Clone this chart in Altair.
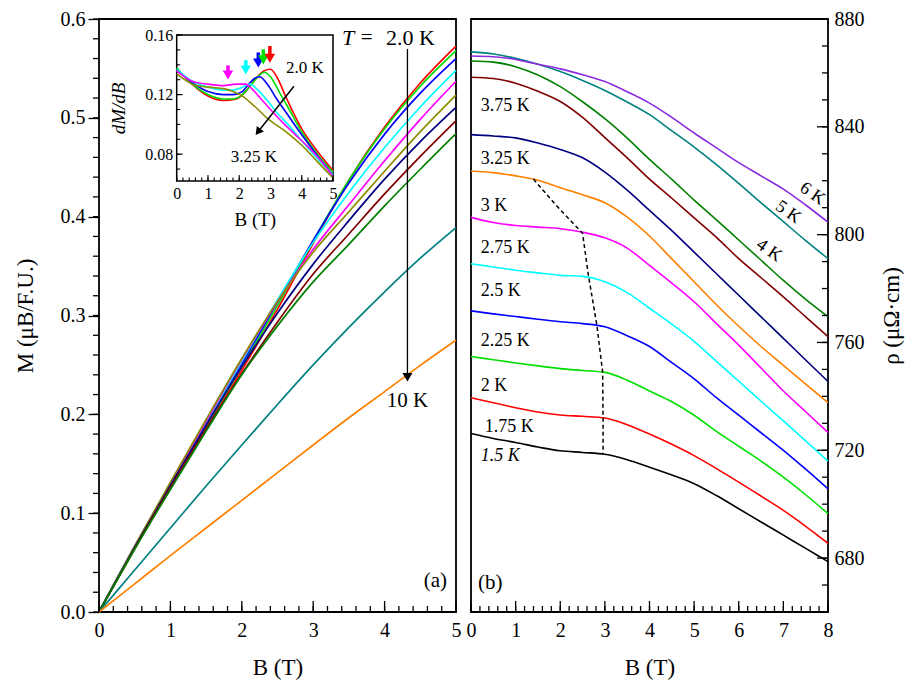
import altair as alt
import pandas as pd

FONT = "Liberation Serif"
W, H = 357, 593
# inset position inside panel (a), pixels
IX0, IX1, IY0, IY1 = 77.7, 234.0, 16.0, 162.0

# ---------------- Panel (a): M vs B ----------------
B_A = [0, 0.5, 1, 1.5, 2, 2.5, 3, 3.5, 4, 4.5, 5]
A_NAMES = ["2.0 K", "2.25 K", "2.5 K", "2.75 K", "3.0 K", "3.25 K",
           "3.5 K", "3.75 K", "4.0 K", "6.0 K", "10 K"]
A_COLORS = ["#ff0000", "#00dd00", "#0000ff", "#00ffff", "#ff00ff", "#8b8b00",
            "#000080", "#800000", "#008000", "#008080", "#ff8000"]
M_200 = [0, 0.066, 0.1275, 0.1863, 0.2446, 0.3064, 0.3731, 0.4369, 0.4906, 0.5353, 0.5726]
M_225 = [0, 0.0665, 0.1288, 0.1885, 0.2480, 0.3103, 0.3753, 0.4368, 0.4890, 0.5320, 0.5680]
M_250 = [0, 0.0663, 0.1290, 0.1900, 0.2508, 0.3138, 0.3760, 0.4340, 0.4835, 0.5250, 0.5600]
M_275 = [0, 0.0665, 0.1300, 0.1920, 0.2538, 0.3158, 0.3740, 0.4245, 0.4700, 0.5110, 0.5480]
M_300 = [0, 0.0663, 0.1301, 0.1928, 0.2556, 0.3140, 0.3670, 0.4120, 0.4565, 0.4985, 0.5370]
M_325 = [0, 0.0665, 0.1313, 0.1948, 0.2565, 0.3143, 0.3640, 0.4050, 0.4460, 0.4860, 0.5230]
M_350 = [0, 0.0650, 0.1280, 0.1890, 0.2480, 0.3025, 0.3520, 0.3960, 0.4380, 0.4760, 0.5106]
M_375 = [0, 0.0640, 0.1260, 0.1850, 0.2410, 0.2935, 0.3420, 0.3825, 0.4230, 0.4610, 0.4970]
M_400 = [0, 0.0635, 0.1240, 0.1830, 0.2400, 0.2895, 0.3340, 0.3720, 0.4110, 0.4480, 0.4840]
M_600 = [0, 0.0425, 0.0850, 0.1275, 0.1690, 0.2100, 0.2500, 0.2880, 0.3240, 0.3580, 0.3890]
M_1000 = [0, 0.0285, 0.0570, 0.0850, 0.1130, 0.1410, 0.1690, 0.1965, 0.2230, 0.2495, 0.2750]
M_ALL = [M_200, M_225, M_250, M_275, M_300, M_325, M_350, M_375, M_400, M_600, M_1000]

# inset dM/dB
IN_B = [
    [0, 0.3, 0.6, 1.0, 1.5, 1.9, 2.2, 2.5, 2.8, 3.0, 3.2, 3.5, 4.0, 4.5, 5.0],
    [0, 0.5, 1.0, 1.5, 1.8, 2.1, 2.4, 2.6, 2.8, 3.0, 3.3, 3.6, 4.0, 4.5, 5.0],
    [0, 0.5, 1.0, 1.5, 1.8, 2.1, 2.3, 2.5, 2.65, 2.9, 3.2, 3.6, 4.0, 4.5, 5.0],
    [0, 0.5, 1.0, 1.5, 1.8, 2.1, 2.35, 2.6, 2.9, 3.2, 3.6, 4.0, 4.5, 5.0],
    [0, 0.5, 1.0, 1.5, 1.9, 2.2, 2.4, 2.7, 3.0, 3.4, 3.8, 4.2, 4.6, 5.0],
    [0, 0.5, 1.0, 1.5, 1.8, 2.1, 2.5, 2.9, 3.5, 4.0, 4.5, 5.0],
]
IN_V = [
    [0.137, 0.131, 0.125, 0.119, 0.116, 0.117, 0.122, 0.130, 0.136, 0.137, 0.132, 0.118, 0.097, 0.082, 0.069],
    [0.138, 0.127, 0.120, 0.117, 0.117, 0.120, 0.127, 0.132, 0.135, 0.132, 0.121, 0.110, 0.095, 0.080, 0.068],
    [0.137, 0.128, 0.122, 0.120, 0.120, 0.122, 0.127, 0.131, 0.132, 0.127, 0.117, 0.105, 0.093, 0.079, 0.066],
    [0.137, 0.129, 0.125, 0.123, 0.123, 0.125, 0.127, 0.123, 0.116, 0.108, 0.099, 0.089, 0.077, 0.066],
    [0.136, 0.129, 0.127, 0.126, 0.127, 0.127, 0.124, 0.117, 0.110, 0.101, 0.093, 0.085, 0.076, 0.065],
    [0.134, 0.127, 0.125, 0.124, 0.122, 0.119, 0.112, 0.104, 0.095, 0.086, 0.075, 0.064],
]
ARW_B = [1.64, 2.21, 2.61, 2.77, 2.98]
ARW_TOP = [0.1396, 0.1431, 0.1483, 0.1504, 0.1526]
ARW_TIP = [0.1301, 0.1335, 0.1382, 0.1403, 0.1414]
ARW_C = ["#ff00ff", "#00ffff", "#0000ff", "#00dd00", "#ff0000"]

# ---------------- Panel (b): rho vs B ----------------
B_B = [0, 0.5, 1, 1.5, 2, 2.5, 3, 3.5, 4, 4.5, 5, 5.5, 6, 6.5, 7, 7.5, 8]
R_NAMES = ["1.5 K", "1.75 K", "2 K", "2.25 K", "2.5 K", "2.75 K", "3 K",
           "3.25 K", "3.75 K", "4 K", "5 K", "6 K"]
R_COLORS = ["#000000", "#ff0000", "#00e000", "#0000ff", "#00ffff", "#ff00ff",
            "#ff8000", "#000080", "#800000", "#008000", "#008080", "#8a2be2"]
R_150 = [726.2, 724.4, 722.9, 721.2, 719.8, 719.2, 718.5, 716.5, 713.7, 710.8, 707.6, 703.2, 698.3, 693.4, 688.5, 683.6, 678.7]
R_175 = [739.5, 737.6, 735.8, 734.2, 733.1, 732.6, 732.0, 729.5, 726.0, 722.2, 718.0, 713.2, 708.2, 703.0, 697.7, 691.8, 685.5]
R_200 = [754.8, 753.6, 752.4, 751.3, 750.3, 749.6, 748.9, 746.0, 742.0, 738.0, 733.0, 727.0, 721.5, 716.0, 710.0, 703.5, 696.5]
R_225 = [771.7, 770.6, 769.6, 768.6, 767.7, 767.0, 765.8, 762.5, 758.5, 752.5, 746.5, 739.5, 733.0, 726.5, 720.0, 713.0, 705.7]
R_250 = [789.2, 788.0, 786.8, 785.8, 784.9, 784.5, 782.5, 778.5, 772.7, 766.8, 760.4, 753.0, 745.6, 738.2, 730.9, 723.5, 716.0]
R_275 = [806.4, 804.5, 803.4, 802.8, 802.2, 800.9, 798.8, 795.0, 788.6, 782.0, 775.1, 767.0, 759.0, 750.5, 742.0, 734.3, 726.6]
R_300 = [823.6, 823.0, 821.8, 820.2, 817.4, 814.8, 811.8, 806.5, 799.5, 791.0, 782.5, 774.0, 766.0, 758.5, 751.5, 744.5, 737.7]
R_325 = [837.1, 836.6, 835.9, 834.0, 831.6, 828.5, 823.2, 816.5, 809.0, 801.5, 793.5, 785.5, 777.5, 769.5, 761.5, 753.5, 745.5]
R_375 = [858.4, 857.9, 856.2, 853.2, 849.4, 843.5, 836.0, 828.5, 820.6, 813.5, 806.2, 799.0, 791.1, 784.0, 776.9, 769.5, 762.2]
R_400 = [864.4, 864.0, 862.3, 859.2, 854.9, 849.3, 843.0, 835.8, 827.9, 820.5, 812.8, 805.5, 798.0, 790.5, 783.0, 776.0, 769.6]
R_500 = [867.8, 867.0, 865.4, 863.2, 860.5, 857.2, 853.5, 849.2, 844.5, 838.5, 832.5, 826.0, 819.0, 811.8, 804.8, 797.8, 791.1]
R_600 = [866.3, 866.0, 865.0, 863.2, 861.5, 859.3, 856.8, 853.0, 848.8, 843.5, 837.7, 832.2, 826.7, 821.8, 816.9, 811.0, 804.6]
R_ALL = [R_150, R_175, R_200, R_225, R_250, R_275, R_300, R_325, R_375, R_400, R_500, R_600]

DASH_B = [1.40, 1.90, 2.30, 2.50, 2.63, 2.82, 2.95, 2.96, 2.96]
DASH_R = [820.6, 811.0, 804.0, 800.5, 785.0, 766.5, 749.0, 732.0, 719.0]

LAB_T = ["3.75 K", "3.25 K", "3 K", "2.75 K", "2.5 K", "2.25 K", "2 K", "1.75 K"]
LAB_B = [0.22, 0.22, 0.22, 0.22, 0.22, 0.22, 0.22, 0.31]
LAB_R = [847.9, 827.9, 810.7, 795.1, 779.0, 760.4, 743.8, 728.8]
ROT_T = ["6 K", "5 K", "4 K"]
ROT_B = [7.65, 7.11, 6.68]
ROT_R = [815.2, 808.3, 794.1]

# tick positions
A_MAJ_X = [0, 1, 2, 3, 4, 5]
A_MIN_X = [round(0.2 * i, 1) for i in range(26)]
A_MAJ_Y = [0.0, 0.1, 0.2, 0.3, 0.4, 0.5, 0.6]
A_MIN_Y = [round(0.02 * i, 2) for i in range(31)]
B_MAJ_X = [0, 1, 2, 3, 4, 5, 6, 7, 8]
B_MIN_X = [round(0.2 * i, 1) for i in range(41)]
B_MAJ_Y = [680, 720, 760, 800, 840, 880]
B_MIN_Y = [660 + 10 * i for i in range(23)]
I_MAJ_Y = [0.08, 0.12, 0.16]
I_MIN_Y = [round(0.07 + 0.01 * i, 2) for i in range(10)]


def sc(domain, rng=None):
    if rng is None:
        return alt.Scale(domain=domain, nice=False, zero=False)
    return alt.Scale(domain=domain, range=rng, nice=False, zero=False)


XA, YA = sc([0, 5]), sc([0, 0.6])
XI, YI = sc([0, 5], [IX0, IX1]), sc([0.062, 0.16], [IY1, IY0])
XB, YB = sc([0, 8]), sc([660, 880])

# one axis definition per channel and panel, repeated identically in every layer
AX_A_X = alt.Axis(orient="bottom", values=A_MAJ_X, format="d", tickSize=0, domain=False,
                  title="B (T)", labelPadding=8, titlePadding=16, labelFlush=False,
                  labelOverlap=False, grid=False)
AX_A_Y = alt.Axis(orient="left", values=A_MAJ_Y, format=".1f", tickSize=11, tickWidth=1.3,
                  tickColor="black", domain=False, title="M (μB/F.U.)", labelPadding=3,
                  titlePadding=23, labelFlush=False, labelOverlap=False, grid=False)
AX_I_X = alt.Axis(orient="bottom", offset=IY1 - H, values=A_MAJ_X, format="d", tickSize=0,
                  domain=False, title="B (T)", labelFontSize=16, titleFontSize=19,
                  labelPadding=4, titlePadding=9, labelFlush=False, labelOverlap=False, grid=False)
AX_I_Y = alt.Axis(orient="left", offset=-IX0, values=I_MAJ_Y, format=".2f", tickSize=0,
                  domain=False, title="dM/dB", titleFontStyle="italic", labelFontSize=16,
                  titleFontSize=19, labelPadding=4, titlePadding=16, labelFlush=False,
                  labelOverlap=False, grid=False)
AX_B_X = alt.Axis(orient="bottom", values=B_MAJ_X, format="d", tickSize=0, domain=False,
                  title="B (T)", labelPadding=8, titlePadding=16, labelFlush=False,
                  labelOverlap=False, grid=False)
AX_B_Y = alt.Axis(orient="right", values=B_MAJ_Y, format="d", tickSize=0, domain=False,
                  title="ρ (μΩ·cm)", titleAngle=270, titleBaseline="top", labelPadding=6,
                  titlePadding=16, labelFlush=False, labelOverlap=False, grid=False)

PANEL = {
    "a": (XA, YA, AX_A_X, AX_A_Y),
    "i": (XI, YI, AX_I_X, AX_I_Y),
    "b": (XB, YB, AX_B_X, AX_B_Y),
}

# symbol paths for tick marks (unit half-length = sqrt(size)/2 pixels)
UP, LEFT, RIGHT = "M0,0L0,-1", "M0,0L-1,0", "M0,0L1,0"


def enc_x(field, p):
    xs, ys, ax, ay = PANEL[p]
    return alt.X(field, scale=xs, axis=ax)


def enc_y(field, p):
    xs, ys, ax, ay = PANEL[p]
    return alt.Y(field, scale=ys, axis=ay)


def tick_marks(p, direction, vals, base, shape, px, width=1.3):
    """tick marks drawn as stroked symbols of length px pixels."""
    if direction == "x":
        d = pd.DataFrame({"x": vals, "y": [base] * len(vals)})
    else:
        d = pd.DataFrame({"x": [base] * len(vals), "y": vals})
    return alt.Chart(d).mark_point(
        shape=shape, filled=False, stroke="black", strokeWidth=width, opacity=1,
        size=(2 * px) ** 2).encode(x=enc_x("x:Q", p), y=enc_y("y:Q", p))


def text_layer(df, p, **mark):
    return alt.Chart(df).mark_text(font=FONT, color="black", **mark).encode(
        x=enc_x("x:Q", p), y=enc_y("y:Q", p), text="t:N")


# ----- panel (a) main -----
rows = []
for name, col, vals in zip(A_NAMES, A_COLORS, M_ALL):
    for b, m in zip(B_A, vals):
        rows.append({"B": b, "M": m, "T": name, "c": col})
dfa = pd.DataFrame(rows)

curves_a = alt.Chart(dfa).mark_line(strokeWidth=1.7, interpolate="monotone").encode(
    x=enc_x("B:Q", "a"), y=enc_y("M:Q", "a"),
    color=alt.Color("c:N", scale=None), detail="T:N")
ticks_a = [tick_marks("a", "x", A_MAJ_X, 0, UP, 11), tick_marks("a", "x", A_MIN_X, 0, UP, 6),
           tick_marks("a", "y", A_MIN_Y, 0, LEFT, 6)]

arrow_line_a = alt.Chart(pd.DataFrame({"x": [4.32], "y": [0.5697], "y2": [0.240]})).mark_rule(
    color="black", strokeWidth=1.3).encode(x=enc_x("x:Q", "a"), y=enc_y("y:Q", "a"), y2="y2:Q")
arrow_head_a = alt.Chart(pd.DataFrame({"x": [4.32], "y": [0.2375]})).mark_point(
    shape="triangle-down", filled=True, color="black", size=100, opacity=1).encode(
    x=enc_x("x:Q", "a"), y=enc_y("y:Q", "a"))

txt_a_it = text_layer(pd.DataFrame({"x": [3.49], "y": [0.581], "t": ["T"]}), "a",
                      fontSize=22, fontStyle="italic", align="center", baseline="middle")
txt_a_c = text_layer(pd.DataFrame({"x": [3.75, 4.32, 4.71], "y": [0.581, 0.2138, 0.031],
                                   "t": ["=", "10 K", "(a)"]}), "a",
                     fontSize=21, align="center", baseline="middle")
txt_a_l = text_layer(pd.DataFrame({"x": [4.02], "y": [0.581], "t": ["2.0 K"]}), "a",
                     fontSize=22, align="left", baseline="middle")

main_a = alt.layer(curves_a, arrow_line_a, arrow_head_a, txt_a_it, txt_a_c, txt_a_l, *ticks_a)

# ----- inset -----
rows = []
for name, col, bs, vs in zip(A_NAMES[:6], A_COLORS[:6], IN_B, IN_V):
    for b, v in zip(bs, vs):
        rows.append({"B": b, "D": v, "T": name, "c": col})
dfi = pd.DataFrame(rows)

frame_i = alt.Chart(pd.DataFrame({"x": [0], "x2": [5], "y": [0.062], "y2": [0.16]})).mark_rect(
    fill="white", stroke="black", strokeWidth=1.5).encode(
    x=enc_x("x:Q", "i"), x2="x2:Q", y=enc_y("y:Q", "i"), y2="y2:Q")
curves_i = alt.Chart(dfi).mark_line(strokeWidth=1.6, interpolate="monotone").encode(
    x=enc_x("B:Q", "i"), y=enc_y("D:Q", "i"),
    color=alt.Color("c:N", scale=None), detail="T:N")
ticks_i = [tick_marks("i", "x", A_MAJ_X, 0.062, UP, 6, 1.1),
           tick_marks("i", "x", A_MIN_X, 0.062, UP, 3.5, 1.1),
           tick_marks("i", "y", I_MAJ_Y, 0, RIGHT, 6, 1.1),
           tick_marks("i", "y", I_MIN_Y, 0, RIGHT, 3.5, 1.1)]

arw = pd.DataFrame({"x": ARW_B, "top": ARW_TOP, "stem": [t + 0.004 for t in ARW_TIP],
                    "head": [t + 0.0030 for t in ARW_TIP], "c": ARW_C})
arw_stem = alt.Chart(arw).mark_rule(strokeWidth=3.5).encode(
    x=enc_x("x:Q", "i"), y=enc_y("top:Q", "i"), y2="stem:Q", color=alt.Color("c:N", scale=None))
arw_head = alt.Chart(arw).mark_point(shape="triangle-down", filled=True, size=110, opacity=1).encode(
    x=enc_x("x:Q", "i"), y=enc_y("head:Q", "i"), color=alt.Color("c:N", scale=None))

blk_line = alt.Chart(pd.DataFrame({"x": [3.75], "y": [0.1256], "x2": [2.61], "y2": [0.0952]})).mark_rule(
    color="black", strokeWidth=1.5).encode(
    x=enc_x("x:Q", "i"), y=enc_y("y:Q", "i"), x2="x2:Q", y2="y2:Q")
blk_head = alt.Chart(pd.DataFrame({"x": [2.60], "y": [0.0950]})).mark_point(
    shape="triangle-down", filled=True, color="black", size=80, opacity=1, angle=38).encode(
    x=enc_x("x:Q", "i"), y=enc_y("y:Q", "i"))
txt_i = text_layer(pd.DataFrame({"x": [4.1, 2.47], "y": [0.138, 0.0784], "t": ["2.0 K", "3.25 K"]}),
                   "i", fontSize=17, align="center", baseline="middle")

inset = alt.layer(frame_i, curves_i, arw_stem, arw_head, blk_line, blk_head, txt_i, *ticks_i)

left = alt.layer(main_a, inset).resolve_scale(x="independent", y="independent").properties(
    width=W, height=H)

# ----- panel (b) -----
rows = []
for name, col, vals in zip(R_NAMES, R_COLORS, R_ALL):
    for b, r in zip(B_B, vals):
        rows.append({"B": b, "R": r, "T": name, "c": col})
dfb = pd.DataFrame(rows)

curves_b = alt.Chart(dfb).mark_line(strokeWidth=1.6, interpolate="monotone").encode(
    x=enc_x("B:Q", "b"), y=enc_y("R:Q", "b"),
    color=alt.Color("c:N", scale=None), detail="T:N")
ticks_b = [tick_marks("b", "x", B_MAJ_X, 660, UP, 11), tick_marks("b", "x", B_MIN_X, 660, UP, 6),
           tick_marks("b", "y", B_MAJ_Y, 8, LEFT, 11), tick_marks("b", "y", B_MIN_Y, 8, LEFT, 6)]

dash = pd.DataFrame({"B": DASH_B, "R": DASH_R, "i": list(range(len(DASH_B)))})
dash_b = alt.Chart(dash).mark_line(color="black", strokeWidth=1.5, strokeDash=[4, 3]).encode(
    x=enc_x("B:Q", "b"), y=enc_y("R:Q", "b"), order="i:Q")

lab_b = text_layer(pd.DataFrame({"x": LAB_B, "y": LAB_R, "t": LAB_T}), "b",
                   fontSize=18, align="left", baseline="middle")
lab_b15 = text_layer(pd.DataFrame({"x": [0.22], "y": [718.0], "t": ["1.5 K"]}), "b",
                     fontSize=18, fontStyle="italic", align="left", baseline="middle")
rot_b = text_layer(pd.DataFrame({"x": ROT_B, "y": ROT_R, "t": ROT_T}), "b",
                   fontSize=18, align="center", baseline="middle", angle=35)
tag_b = text_layer(pd.DataFrame({"x": [0.43], "y": [670.7], "t": ["(b)"]}), "b",
                   fontSize=21, align="center", baseline="middle")

right = alt.layer(curves_b, dash_b, lab_b, lab_b15, rot_b, tag_b, *ticks_b).properties(
    width=W, height=H)

chart = alt.hconcat(left, right, spacing=15, bounds="flush").properties(
    padding={"left": 5, "top": 0, "right": 5, "bottom": 5}
).configure_view(stroke="black", strokeWidth=1.8).configure_axis(
    labelFont=FONT, titleFont=FONT, labelFontSize=20, titleFontSize=23,
    titleFontWeight="normal", labelColor="black", titleColor="black",
    tickColor="black", domainColor="black", grid=False
).configure_text(font=FONT)

chart.save("out.html", embed_options={"renderer": "svg", "actions": False})
